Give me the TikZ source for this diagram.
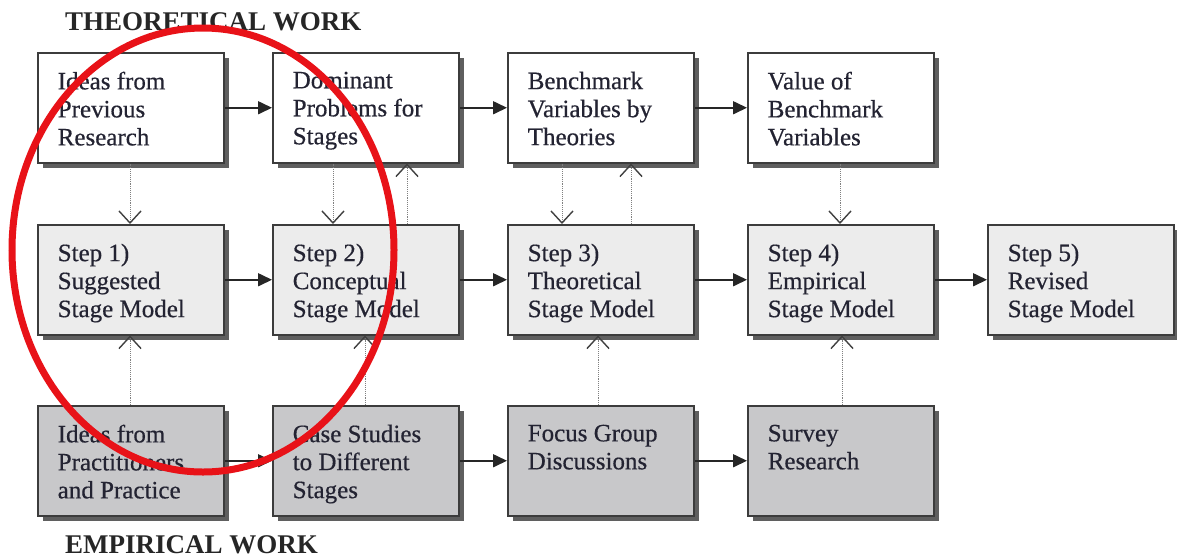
\documentclass[tikz,border=0pt]{standalone}
\usepackage{fontspec}
\setmainfont{Liberation Serif}
\newfontfamily\boxfont[FakeBold=0.5]{Liberation Serif}
\usetikzlibrary{shadows,arrows.meta}
\definecolor{txt}{RGB}{35,35,50}
\definecolor{boxline}{RGB}{60,60,60}
\definecolor{shadowc}{RGB}{95,95,95}
\definecolor{midfill}{RGB}{236,236,236}
\definecolor{lowfill}{RGB}{200,200,202}
\definecolor{ringred}{RGB}{232,18,24}
\newcommand{\bt}[1]{\parbox[c][72pt][t]{146pt}{\raggedright #1}}
\tikzset{
  box/.style={draw=boxline, line width=1.5pt, anchor=north west, rectangle,
    minimum width=186pt, minimum height=110pt, inner xsep=20pt, inner ysep=19pt,
    drop shadow={shadow xshift=5pt, shadow yshift=-5pt, fill=shadowc, opacity=1},
    font=\boxfont\fontsize{25pt}{28pt}\selectfont, text=txt},
  topbox/.style={box, fill=white},
  midbox/.style={box, fill=midfill},
  lowbox/.style={box, fill=lowfill},
  flow/.style={line width=1.6pt, draw=black!85, -{Triangle[length=14pt,width=13pt]}},
  link/.style={densely dotted, line width=0.9pt, draw=gray,
    -{Straight Barb[length=12pt,width=22pt,line width=1.4pt,sep=0pt,color=black!75]}},
  title/.style={anchor=west, font=\fontsize{27pt}{30pt}\selectfont\bfseries, text=black!85, inner sep=0pt}
}
\begin{document}
\begin{tikzpicture}[x=1pt,y=-1pt]
\useasboundingbox (0,0) rectangle (1177,558);

\node[title] (th) at (65,22) {THEORETICAL WORK};
\node[title] (em) at (65,545) {EMPIRICAL WORK};

% top row
\node[topbox] (t1) at (37,52) {\bt{Ideas from\\Previous\\Research}};
\node[topbox] (t2) at (272,52) {\bt{Dominant\\Problems for\\Stages}};
\node[topbox] (t3) at (507,52) {\bt{Benchmark\\Variables by\\Theories}};
\node[topbox] (t4) at (747,52) {\bt{Value of\\Benchmark\\Variables}};

% middle row
\node[midbox] (m1) at (37,224) {\bt{Step 1)\\Suggested\\Stage Model}};
\node[midbox] (m2) at (272,224) {\bt{Step 2)\\Conceptual\\Stage Model}};
\node[midbox] (m3) at (507,224) {\bt{Step 3)\\Theoretical\\Stage Model}};
\node[midbox] (m4) at (747,224) {\bt{Step 4)\\Empirical\\Stage Model}};
\node[midbox] (m5) at (987,224) {\bt{Step 5)\\Revised\\Stage Model}};

% bottom row
\node[lowbox] (b1) at (37,405) {\bt{Ideas from\\Practitioners\\and Practice}};
\node[lowbox] (b2) at (272,405) {\bt{Case Studies\\to Different\\Stages}};
\node[lowbox] (b3) at (507,405) {\bt{Focus Group\\Discussions}};
\node[lowbox] (b4) at (747,405) {\bt{Survey\\Research}};

% horizontal flows
\draw[flow] (t1) -- (t2);
\draw[flow] (t2) -- (t3);
\draw[flow] (t3) -- (t4);
\draw[flow] (m1) -- (m2);
\draw[flow] (m2) -- (m3);
\draw[flow] (m3) -- (m4);
\draw[flow] (m4) -- (m5);
\draw[flow] (b1) -- (b2);
\draw[flow] (b2) -- (b3);
\draw[flow] (b3) -- (b4);

% theory to steps
\draw[link] (t1.south -| 130,0) -- (m1.north -| 130,0);
\draw[link] (t2.south -| 333,0) -- (m2.north -| 333,0);
\draw[link] (m2.north -| 407,0) -- (t2.south -| 407,0);
\draw[link] (t3.south -| 562,0) -- (m3.north -| 562,0);
\draw[link] (m3.north -| 631,0) -- (t3.south -| 631,0);
\draw[link] (t4.south -| 840,0) -- (m4.north -| 840,0);

% empirical to steps
\draw[link] (b1.north -| 130,0) -- (m1.south -| 130,0);
\draw[link] (b2.north -| 365,0) -- (m2.south -| 365,0);
\draw[link] (b3.north -| 598,0) -- (m3.south -| 598,0);
\draw[link] (b4.north -| 842,0) -- (m4.south -| 842,0);

% red ring
\draw[ringred, line width=7pt] (203,250) ellipse [x radius=191, y radius=222];
\end{tikzpicture}
\end{document}
